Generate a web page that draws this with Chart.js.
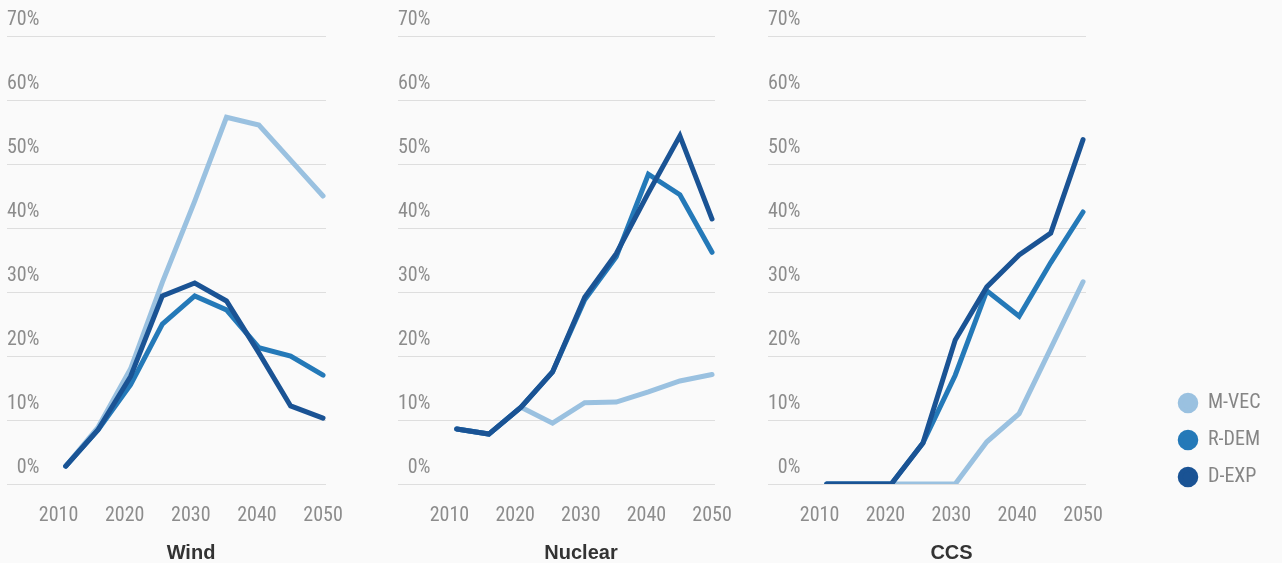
<!DOCTYPE html>
<html>
<head>
<meta charset="utf-8">
<script src="https://cdn.jsdelivr.net/npm/chart.js@4.4.1/dist/chart.umd.min.js"></script>
<style>
  body { margin: 0; background: #fafafa; }
  #wrap { position: relative; width: 1282px; height: 563px; }
  canvas { position: absolute; top: 0; }
</style>
</head>
<body>
<div id="wrap">
  <canvas id="chart_wind" width="380" height="563" style="left:0px"></canvas>
  <canvas id="chart_nuclear" width="370" height="563" style="left:390px"></canvas>
  <canvas id="chart_ccs" width="522" height="563" style="left:760px"></canvas>
</div>
<script>
let years = [2011.1, 2016, 2020.9, 2025.7, 2030.6, 2035.4, 2040.3, 2045.1, 2050];

// Tick labels
let yearTicks = [2010, 2020, 2030, 2040, 2050];
let percentTicks = [0, 10, 20, 30, 40, 50, 60, 70];

// Scenarios
let seriesNames = ["M-VEC", "R-DEM", "D-EXP"];
let seriesColors = ["#9ac1e0", "#2479b8", "#1a5394"];

// Share (%) per scenario, one array per panel
let windMVEC = [2.8, 8.9, 18.0, 31.5, 44.2, 57.3, 56.1, 50.6, 45.0];
let windRDEM = [2.8, 8.5, 15.5, 25.0, 29.4, 27.2, 21.3, 20.0, 17.0];
let windDEXP = [2.8, 8.5, 16.8, 29.4, 31.4, 28.6, 20.5, 12.2, 10.3];

let nuclearMVEC = [8.6, 7.8, 12.0, 9.5, 12.7, 12.8, 14.4, 16.1, 17.1];
let nuclearRDEM = [8.6, 7.8, 12.0, 17.5, 28.8, 35.5, 48.4, 45.2, 36.2];
let nuclearDEXP = [8.6, 7.8, 12.0, 17.5, 29.2, 36.0, 45.5, 54.4, 41.4];

let ccsMVEC = [0, 0, 0, 0, 0, 6.6, 11.0, 21.2, 31.6];
let ccsRDEM = [0, 0, 0, 6.4, 17.0, 30.2, 26.2, 34.6, 42.5];
let ccsDEXP = [0, 0, 0, 6.4, 22.5, 30.8, 35.8, 39.2, 53.8];

const narrow = "'Liberation Sans Narrow', 'Roboto Condensed', 'DejaVu Sans Condensed', sans-serif";

// Moves the legend box to the bottom right corner, next to the last panel
const legendPlacer = {
  id: "legendPlacer",
  afterLayout(chart) {
    let lg = chart.legend;
    if (!lg || !lg.options.display) return;
    lg.left = 401;
    lg.right = chart.width;
    lg.width = lg.right - lg.left;
    lg.top += 20;
    lg.bottom += 20;
  }
};

function makeChart(id, title, seriesList, padLeft, padRight, withLegend) {
  let ctx = document.getElementById(id).getContext("2d");

  let datasets = seriesList.map((values, i) => ({
    label: seriesNames[i],
    data: values.map((v, j) => ({ x: years[j], y: v })),
    borderColor: seriesColors[i],
    backgroundColor: seriesColors[i],
    borderWidth: 5,
    borderCapStyle: "round",
    pointRadius: 0,
    fill: false,
    order: 3 - i // darkest line on top
  }));

  return new Chart(ctx, {
    type: "line",
    data: { datasets: datasets },
    plugins: [legendPlacer],
    options: {
      responsive: false,
      animation: false,
      layout: { padding: { left: padLeft, right: padRight, top: 36, bottom: 0 } },
      plugins: {
        tooltip: { enabled: false },
        legend: {
          display: withLegend,
          position: "right",
          align: "end",
          fullSize: false,
          maxWidth: 90,
          labels: {
            usePointStyle: true,
            pointStyle: "circle",
            boxWidth: 20,
            boxHeight: 11,
            padding: 17,
            color: "#858585",
            font: { family: narrow, size: 20 },
            sort: (a, b) => a.datasetIndex - b.datasetIndex
          }
        }
      },
      scales: {
        x: {
          type: "linear",
          min: 2009.62,
          max: 2050.45,
          grid: { display: false, drawTicks: false },
          border: { display: false },
          afterBuildTicks: (s) => { s.ticks = yearTicks.map(v => ({ value: v })); },
          afterFit: (s) => { s.height = 79; },
          ticks: {
            padding: 20,
            color: "#8c8c8c",
            font: { family: narrow, size: 20 },
            callback: (v) => String(v)
          },
          title: {
            display: true,
            text: title,
            color: "#333333",
            padding: { top: 0, bottom: -2 },
            font: { family: "'Liberation Sans', Arial, sans-serif", size: 20, weight: "bold" }
          }
        },
        y: {
          min: 0,
          max: 70,
          grid: { color: "#dedede", lineWidth: 1, tickLength: 49 },
          border: { display: false },
          afterBuildTicks: (s) => { s.ticks = percentTicks.map(v => ({ value: v })); },
          afterFit: (s) => { s.width = 49; },
          ticks: {
            mirror: true,
            padding: -49,
            crossAlign: "far",
            labelOffset: -16,
            color: "#8c8c8c",
            font: { family: narrow, size: 20 },
            callback: (v) => v + "%"
          }
        }
      }
    }
  });
}

window.onload = () => {
  makeChart("chart_wind", "Wind", [windMVEC, windRDEM, windDEXP], 7, 54, false);
  makeChart("chart_nuclear", "Nuclear", [nuclearMVEC, nuclearRDEM, nuclearDEXP], 8, 45, false);
  makeChart("chart_ccs", "CCS", [ccsMVEC, ccsRDEM, ccsDEXP], 8, 106, true);
};
</script>
</body>
</html>
